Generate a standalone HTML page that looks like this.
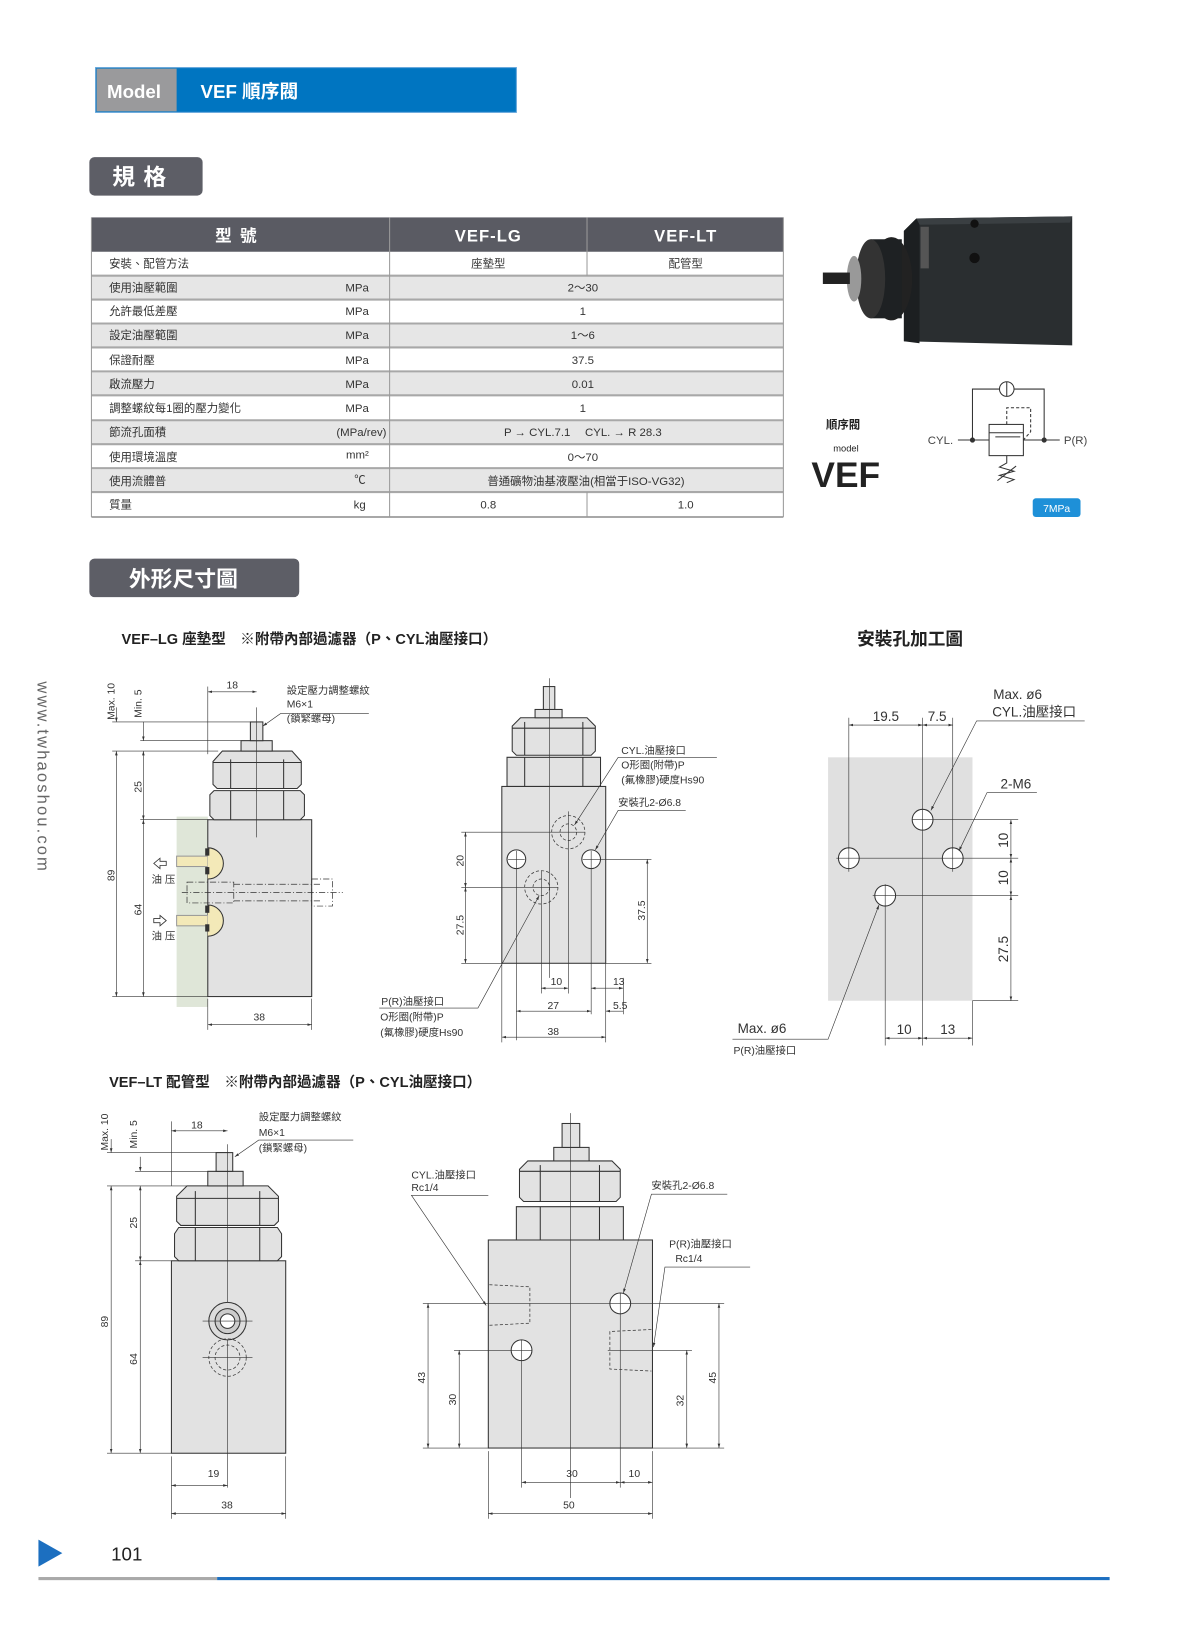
<!DOCTYPE html>
<html><head><meta charset="utf-8"><style>
html,body{margin:0;padding:0;background:#fff;}
svg{display:block;font-family:"Liberation Sans","Noto Sans CJK TC",sans-serif;}
</style></head><body>
<svg width="1200" height="1628" viewBox="0 0 1155 1565" preserveAspectRatio="none" xmlns="http://www.w3.org/2000/svg">
<defs>
<marker id="a" viewBox="0 0 10 10" refX="10" refY="5" markerWidth="7" markerHeight="7" orient="auto-start-reverse"><path d="M0,2 L10,5 L0,8 z" fill="#333"/></marker>
</defs>
<!-- header -->
<rect x="92" y="65" width="405" height="43" fill="#0075c1" stroke="#5aa0d8"/>
<rect x="93" y="66" width="77" height="41" fill="#9a9a9c"/>
<text x="103" y="94" font-size="18" font-weight="bold" fill="#fff">Model</text>
<text x="193" y="94" font-size="18" font-weight="bold" fill="#fff">VEF 順序閥</text>
<rect x="86" y="151" width="109" height="37" rx="5" fill="#5d5e66"/>
<text x="108" y="178" font-size="22" font-weight="bold" fill="#fff" letter-spacing="8">規格</text>

<!-- table -->
<g font-size="11" fill="#333">
<rect x="88" y="209" width="666" height="33" fill="#5a5b63"/>
<text x="231" y="232" font-size="16" font-weight="bold" fill="#fff" text-anchor="middle" letter-spacing="8">型號</text>
<text x="470" y="232" font-size="16" font-weight="bold" fill="#fff" text-anchor="middle" letter-spacing="1">VEF-LG</text>
<text x="660" y="232" font-size="16" font-weight="bold" fill="#fff" text-anchor="middle" letter-spacing="1">VEF-LT</text>
<rect x="88" y="265" width="666" height="23" fill="#e6e6e6"/>
<rect x="88" y="311" width="666" height="23" fill="#e6e6e6"/>
<rect x="88" y="357" width="666" height="23" fill="#e6e6e6"/>
<rect x="88" y="404" width="666" height="23" fill="#e6e6e6"/>
<rect x="88" y="450" width="666" height="23" fill="#e6e6e6"/>
<g stroke="#a8a8a8" stroke-width="2">
<line x1="88" y1="265" x2="754" y2="265"/><line x1="88" y1="288" x2="754" y2="288"/>
<line x1="88" y1="311" x2="754" y2="311"/><line x1="88" y1="334" x2="754" y2="334"/>
<line x1="88" y1="357" x2="754" y2="357"/><line x1="88" y1="380" x2="754" y2="380"/>
<line x1="88" y1="404" x2="754" y2="404"/><line x1="88" y1="427" x2="754" y2="427"/>
<line x1="88" y1="450" x2="754" y2="450"/><line x1="88" y1="473" x2="754" y2="473"/>
<line x1="88" y1="497" x2="754" y2="497"/>
</g>
<g stroke="#9a9a9a" stroke-width="1">
<line x1="88" y1="209" x2="88" y2="497"/><line x1="754" y1="209" x2="754" y2="497"/>
<line x1="375" y1="209" x2="375" y2="497"/>
<line x1="565" y1="209" x2="565" y2="265"/><line x1="565" y1="473" x2="565" y2="497"/>
</g>
<text x="105" y="257">安裝、配管方法</text><text x="470" y="257" text-anchor="middle">座墊型</text><text x="660" y="257" text-anchor="middle">配管型</text>
<text x="105" y="280">使用油壓範圍</text><text x="355" y="280" text-anchor="end">MPa</text><text x="561" y="280" text-anchor="middle">2～30</text>
<text x="105" y="303">允許最低差壓</text><text x="355" y="303" text-anchor="end">MPa</text><text x="561" y="303" text-anchor="middle">1</text>
<text x="105" y="326">設定油壓範圍</text><text x="355" y="326" text-anchor="end">MPa</text><text x="561" y="326" text-anchor="middle">1～6</text>
<text x="105" y="350">保證耐壓</text><text x="355" y="350" text-anchor="end">MPa</text><text x="561" y="350" text-anchor="middle">37.5</text>
<text x="105" y="373">啟流壓力</text><text x="355" y="373" text-anchor="end">MPa</text><text x="561" y="373" text-anchor="middle">0.01</text>
<text x="105" y="396">調整螺紋每1圈的壓力變化</text><text x="355" y="396" text-anchor="end">MPa</text><text x="561" y="396" text-anchor="middle">1</text>
<text x="105" y="419">節流孔面積</text><text x="372" y="419" text-anchor="end">(MPa/rev)</text><text x="561" y="419" text-anchor="middle">P → CYL.7.1　 CYL. → R 28.3</text>
<text x="105" y="443">使用環境溫度</text><text x="355" y="441" text-anchor="end">mm²</text><text x="561" y="443" text-anchor="middle">0～70</text>
<text x="105" y="466">使用流體普</text><text x="352" y="465" text-anchor="end">℃</text><text x="564" y="466" text-anchor="middle">普通礦物油基液壓油(相當于ISO-VG32)</text>
<text x="105" y="489">質量</text><text x="352" y="489" text-anchor="end">kg</text><text x="470" y="489" text-anchor="middle">0.8</text><text x="660" y="489" text-anchor="middle">1.0</text>
</g>

<!-- photo -->
<polygon points="882,210 1032,208 1032,332 870,328 870,222" fill="#2a2e30"/>
<polygon points="882,210 1032,208 1030,214 885,216" fill="#3a3f42"/>
<polygon points="870,222 882,210 885,216 885,330 870,328" fill="#1c1f21"/>
<circle cx="938" cy="215" r="4" fill="#111"/><circle cx="938" cy="248" r="5" fill="#111"/>
<rect x="886" y="218" width="8" height="40" fill="#555"/>
<ellipse cx="858" cy="268" rx="20" ry="40" fill="#222"/>
<rect x="838" y="230" width="30" height="76" fill="#1e2123"/>
<ellipse cx="838" cy="268" rx="14" ry="38" fill="#333"/>
<ellipse cx="822" cy="268" rx="7" ry="22" fill="#999"/>
<rect x="792" y="262" width="26" height="11" fill="#222"/>

<!-- VEF label & symbol -->
<text x="795" y="412" font-size="11" font-weight="bold" fill="#222">順序閥</text>
<text x="802" y="434" font-size="9" fill="#222">model</text>
<text x="781" y="468" font-size="34" font-weight="bold" fill="#222">VEF</text>
<g stroke="#333" fill="none" stroke-width="1">
<polyline points="936,423 936,374 1005,374 1005,423"/>
<circle cx="969" cy="374" r="7" fill="#fff"/>
<line x1="969" y1="367" x2="969" y2="381"/>
<rect x="952" y="408" width="33" height="30" fill="#fff"/>
<line x1="952" y1="416" x2="985" y2="416"/>
<line x1="982" y1="420" x2="958" y2="420"/>
<polyline points="969,408 969,392 992,392 992,415 985,423" stroke-dasharray="3,2"/>
<line x1="922" y1="423" x2="952" y2="423"/><line x1="985" y1="423" x2="1020" y2="423"/>
<polyline points="969,438 969,445 962,449 976,453 962,457 976,461 969,464"/>
<line x1="960" y1="462" x2="978" y2="448"/>
</g>
<circle cx="936" cy="423" r="2.5" fill="#333"/><circle cx="1005" cy="423" r="2.5" fill="#333"/>
<text x="893" y="427" font-size="11" fill="#444">CYL.</text>
<text x="1024" y="427" font-size="11" fill="#444">P(R)</text>
<rect x="994" y="479" width="46" height="18" rx="3" fill="#1e90d8"/>
<text x="1017" y="492" font-size="10" fill="#fff" text-anchor="middle">7MPa</text>

<!-- section 2 -->
<rect x="86" y="537" width="202" height="37" rx="5" fill="#5d5e66"/>
<text x="124" y="564" font-size="21" font-weight="bold" fill="#fff">外形尺寸圖</text>
<text x="117" y="619" font-size="14" font-weight="bold" fill="#222">VEF–LG 座墊型　※附帶內部過濾器（P、CYL油壓接口）</text>
<text x="825" y="620" font-size="17" font-weight="bold" fill="#222">安裝孔加工圖</text>
<text transform="translate(36,655) rotate(90)" font-size="16" fill="#666" letter-spacing="2">www.twhaoshou.com</text>

<g stroke="#333" stroke-width="1" fill="none" font-size="10">
<!-- Drawing 1 -->
<rect x="170" y="785" width="30" height="183" fill="#dfe6d8" stroke="none"/>
<rect x="200" y="788" width="100" height="170" fill="#e2e2e2"/>
<path d="M202,764 L206,760 H289 L293,764 V784 L289,788 H206 L202,784 Z" fill="#e2e2e2"/>
<line x1="222" y1="760" x2="222" y2="788"/><line x1="273" y1="760" x2="273" y2="788"/>
<path d="M205,732 L214,722 H281 L290,732 V754 L286,758 H209 L205,754 Z" fill="#e2e2e2"/>
<line x1="222" y1="730" x2="222" y2="758"/><line x1="273" y1="730" x2="273" y2="758"/><line x1="205" y1="733" x2="290" y2="733"/>
<rect x="232" y="712" width="30" height="10" fill="#e2e2e2"/>
<rect x="241" y="694" width="12" height="18" fill="#e2e2e2"/>
<line x1="247" y1="680" x2="247" y2="805" stroke-width="0.6"/>
<rect x="170" y="823" width="30" height="10" fill="#f3e9b8" stroke="#999"/>
<rect x="170" y="880" width="30" height="10" fill="#f3e9b8" stroke="#999"/>
<path d="M200,815 A14,14 0 0 1 200,845" fill="#f3e9b8"/>
<path d="M200,870 A14,14 0 0 1 200,900" fill="#f3e9b8"/>
<rect x="198" y="816" width="3" height="6" fill="#333"/><rect x="198" y="834" width="3" height="6" fill="#333"/>
<rect x="198" y="871" width="3" height="6" fill="#333"/><rect x="198" y="889" width="3" height="6" fill="#333"/>
<g stroke-dasharray="6,2,1,2" stroke-width="0.7">
<rect x="180" y="848" width="45" height="20"/>
<line x1="225" y1="850" x2="310" y2="850"/><line x1="225" y1="866" x2="310" y2="866"/>
<rect x="300" y="845" width="20" height="26"/>
<line x1="175" y1="858" x2="330" y2="858"/>
</g>
<path d="M148,830 l6,-5 v3 h6 v4 h-6 v3 z" stroke-width="0.8"/>
<path d="M160,885 l-6,-5 v3 h-6 v4 h6 v3 z" stroke-width="0.8"/>
<g stroke-width="0.6">
<line x1="108" y1="694" x2="245" y2="694"/><line x1="135" y1="712" x2="245" y2="712"/>
<line x1="108" y1="722" x2="210" y2="722"/><line x1="135" y1="788" x2="200" y2="788"/>
<line x1="108" y1="958" x2="200" y2="958"/>
<line x1="200" y1="660" x2="200" y2="725"/><line x1="200" y1="960" x2="200" y2="990"/><line x1="300" y1="960" x2="300" y2="990"/>
<line x1="112" y1="680" x2="112" y2="694" marker-end="url(#a)"/>
<line x1="112" y1="722" x2="112" y2="958" marker-start="url(#a)" marker-end="url(#a)"/>
<line x1="138" y1="694" x2="138" y2="712" marker-end="url(#a)"/>
<line x1="138" y1="722" x2="138" y2="788" marker-start="url(#a)" marker-end="url(#a)"/>
<line x1="138" y1="788" x2="138" y2="958" marker-start="url(#a)" marker-end="url(#a)"/>
<line x1="200" y1="665" x2="247" y2="665" marker-start="url(#a)" marker-end="url(#a)"/>
<line x1="200" y1="985" x2="300" y2="985" marker-start="url(#a)" marker-end="url(#a)"/>
<polyline points="253,698 270,686 355,686" marker-start="url(#a)"/>
</g>
<!-- Drawing 2 -->
<rect x="483" y="756" width="100" height="170" fill="#e2e2e2"/>
<path d="M488,728 H578 V756 H488 Z" fill="#e2e2e2"/>
<line x1="505" y1="728" x2="505" y2="756"/><line x1="561" y1="728" x2="561" y2="756"/>
<path d="M493,698 L501,690 H565 L573,698 V722 L569,726 H497 L493,722 Z" fill="#e2e2e2"/>
<line x1="505" y1="694" x2="505" y2="726"/><line x1="561" y1="694" x2="561" y2="726"/><line x1="493" y1="700" x2="573" y2="700"/>
<rect x="515" y="682" width="26" height="8" fill="#e2e2e2"/>
<rect x="523" y="660" width="11" height="22" fill="#e2e2e2"/>
<line x1="529" y1="652" x2="529" y2="940" stroke-width="0.6"/>
<circle cx="497" cy="826" r="9" fill="#fff"/><circle cx="569" cy="826" r="9" fill="#fff"/>
<g stroke-dasharray="3,2" stroke-width="0.7">
<circle cx="547" cy="800" r="16"/><circle cx="547" cy="800" r="8"/>
<circle cx="521" cy="853" r="16"/><circle cx="521" cy="853" r="8"/>
</g>
<g stroke-width="0.6">
<line x1="489" y1="826" x2="505" y2="826"/><line x1="497" y1="818" x2="497" y2="1000"/>
<line x1="561" y1="826" x2="627" y2="826"/><line x1="569" y1="818" x2="569" y2="975"/>
<line x1="444" y1="800" x2="563" y2="800"/><line x1="547" y1="780" x2="547" y2="955"/>
<line x1="444" y1="853" x2="537" y2="853"/><line x1="521" y1="837" x2="521" y2="955"/>
<line x1="444" y1="926" x2="483" y2="926"/><line x1="583" y1="926" x2="627" y2="926"/>
<line x1="483" y1="926" x2="483" y2="1002"/><line x1="583" y1="926" x2="583" y2="1002"/><line x1="600" y1="940" x2="600" y2="975"/>
<line x1="448" y1="800" x2="448" y2="853" marker-start="url(#a)" marker-end="url(#a)"/>
<line x1="448" y1="853" x2="448" y2="926" marker-start="url(#a)" marker-end="url(#a)"/>
<line x1="623" y1="826" x2="623" y2="926" marker-start="url(#a)" marker-end="url(#a)"/>
<line x1="521" y1="950" x2="547" y2="950" marker-start="url(#a)" marker-end="url(#a)"/>
<line x1="569" y1="950" x2="600" y2="950" marker-start="url(#a)" marker-end="url(#a)"/>
<line x1="497" y1="972" x2="569" y2="972" marker-start="url(#a)" marker-end="url(#a)"/>
<line x1="583" y1="972" x2="600" y2="972" marker-start="url(#a)"/>
<line x1="483" y1="997" x2="583" y2="997" marker-start="url(#a)" marker-end="url(#a)"/>
<polyline points="690,728 595,728 553,793" marker-end="url(#a)"/>
<polyline points="660,779 595,779 573,817" marker-end="url(#a)"/>
<polyline points="365,969 460,969 519,861" marker-end="url(#a)"/>
</g>
<!-- Drawing 3 -->
<rect x="797" y="728" width="139" height="234" fill="#e0e0e0" stroke="none"/>
<circle cx="888" cy="788" r="10" fill="#fff"/><circle cx="817" cy="825" r="10" fill="#fff"/>
<circle cx="917" cy="825" r="10" fill="#fff"/><circle cx="852" cy="861" r="10" fill="#fff"/>
<g stroke-width="0.6">
<line x1="888" y1="690" x2="888" y2="1005"/><line x1="852" y1="850" x2="852" y2="1005"/>
<line x1="817" y1="690" x2="817" y2="838"/><line x1="917" y1="690" x2="917" y2="838"/>
<line x1="936" y1="962" x2="936" y2="1005"/>
<line x1="878" y1="788" x2="980" y2="788"/><line x1="805" y1="825" x2="980" y2="825"/>
<line x1="840" y1="861" x2="980" y2="861"/><line x1="936" y1="962" x2="980" y2="962"/>
<line x1="817" y1="697" x2="888" y2="697" marker-start="url(#a)" marker-end="url(#a)"/>
<line x1="888" y1="697" x2="917" y2="697" marker-start="url(#a)" marker-end="url(#a)"/>
<line x1="973" y1="788" x2="973" y2="825" marker-start="url(#a)" marker-end="url(#a)"/>
<line x1="973" y1="825" x2="973" y2="861" marker-start="url(#a)" marker-end="url(#a)"/>
<line x1="973" y1="861" x2="973" y2="962" marker-start="url(#a)" marker-end="url(#a)"/>
<line x1="852" y1="998" x2="888" y2="998" marker-start="url(#a)" marker-end="url(#a)"/>
<line x1="888" y1="998" x2="936" y2="998" marker-start="url(#a)" marker-end="url(#a)"/>
<polyline points="1044,693 940,693 896,779" marker-end="url(#a)"/>
<polyline points="998,762 950,762 923,818" marker-end="url(#a)"/>
<polyline points="705,999 797,999 846,870" marker-end="url(#a)"/>
</g>
<!-- Drawing 4 -->
<rect x="165" y="1212" width="110" height="185" fill="#e2e2e2"/>
<path d="M168,1186 L172,1180 H267 L271,1186 V1208 L267,1212 H172 L168,1208 Z" fill="#e2e2e2"/>
<line x1="188" y1="1180" x2="188" y2="1212"/><line x1="250" y1="1180" x2="250" y2="1212"/>
<path d="M170,1150 L180,1140 H258 L268,1150 V1174 L264,1178 H174 L170,1174 Z" fill="#e2e2e2"/>
<line x1="188" y1="1145" x2="188" y2="1178"/><line x1="250" y1="1145" x2="250" y2="1178"/><line x1="170" y1="1152" x2="268" y2="1152"/>
<rect x="200" y="1126" width="34" height="14" fill="#e2e2e2"/>
<rect x="208" y="1108" width="16" height="18" fill="#e2e2e2"/>
<line x1="219" y1="1100" x2="219" y2="1430" stroke-width="0.6"/>
<circle cx="219" cy="1270" r="18" fill="#ddd"/><circle cx="219" cy="1270" r="12" fill="#ccc"/><circle cx="219" cy="1270" r="7" fill="#fff"/>
<g stroke-dasharray="3,2" stroke-width="0.7"><circle cx="219" cy="1305" r="18"/><circle cx="219" cy="1305" r="12"/></g>
<g stroke-width="0.6">
<line x1="195" y1="1270" x2="243" y2="1270"/><line x1="195" y1="1305" x2="243" y2="1305"/>
<line x1="103" y1="1108" x2="220" y2="1108"/><line x1="130" y1="1126" x2="220" y2="1126"/>
<line x1="103" y1="1140" x2="180" y2="1140"/><line x1="130" y1="1212" x2="165" y2="1212"/>
<line x1="103" y1="1397" x2="165" y2="1397"/>
<line x1="165" y1="1078" x2="165" y2="1140"/><line x1="165" y1="1400" x2="165" y2="1460"/><line x1="275" y1="1400" x2="275" y2="1460"/>
<line x1="107" y1="1095" x2="107" y2="1108" marker-end="url(#a)"/>
<line x1="107" y1="1140" x2="107" y2="1397" marker-start="url(#a)" marker-end="url(#a)"/>
<line x1="135" y1="1112" x2="135" y2="1126" marker-end="url(#a)"/>
<line x1="135" y1="1140" x2="135" y2="1212" marker-start="url(#a)" marker-end="url(#a)"/>
<line x1="135" y1="1212" x2="135" y2="1397" marker-start="url(#a)" marker-end="url(#a)"/>
<line x1="165" y1="1087" x2="219" y2="1087" marker-start="url(#a)" marker-end="url(#a)"/>
<line x1="165" y1="1428" x2="219" y2="1428" marker-start="url(#a)" marker-end="url(#a)"/>
<line x1="165" y1="1455" x2="275" y2="1455" marker-start="url(#a)" marker-end="url(#a)"/>
<polyline points="340,1096 249,1096 226,1112" marker-end="url(#a)"/>
</g>
<!-- Drawing 5 -->
<rect x="470" y="1192" width="158" height="200" fill="#e2e2e2"/>
<path d="M497,1160 H600 V1192 H497 Z" fill="#e2e2e2"/>
<line x1="520" y1="1160" x2="520" y2="1192"/><line x1="577" y1="1160" x2="577" y2="1192"/>
<path d="M500,1124 L508,1116 H589 L597,1124 V1151 L593,1155 H504 L500,1151 Z" fill="#e2e2e2"/>
<line x1="520" y1="1120" x2="520" y2="1155"/><line x1="577" y1="1120" x2="577" y2="1155"/><line x1="500" y1="1126" x2="597" y2="1126"/>
<rect x="533" y="1103" width="34" height="13" fill="#e2e2e2"/>
<rect x="541" y="1080" width="17" height="23" fill="#e2e2e2"/>
<line x1="549" y1="1070" x2="549" y2="1440" stroke-width="0.6"/>
<circle cx="597" cy="1253" r="10" fill="#fff"/><circle cx="502" cy="1298" r="10" fill="#fff"/>
<g stroke-dasharray="3,2" stroke-width="0.7">
<polyline points="471,1235 510,1237 510,1272 471,1274"/>
<polyline points="627,1278 587,1280 587,1316 627,1318"/>
</g>
<g stroke-width="0.6">
<line x1="407" y1="1253" x2="607" y2="1253"/><line x1="597" y1="1243" x2="597" y2="1430"/>
<line x1="437" y1="1298" x2="512" y2="1298"/><line x1="502" y1="1288" x2="502" y2="1430"/>
<line x1="585" y1="1298" x2="666" y2="1298"/><line x1="607" y1="1253" x2="697" y2="1253"/>
<line x1="407" y1="1392" x2="470" y2="1392"/><line x1="628" y1="1392" x2="697" y2="1392"/>
<line x1="470" y1="1395" x2="470" y2="1460"/><line x1="628" y1="1395" x2="628" y2="1460"/>
<line x1="412" y1="1253" x2="412" y2="1392" marker-start="url(#a)" marker-end="url(#a)"/>
<line x1="442" y1="1298" x2="442" y2="1392" marker-start="url(#a)" marker-end="url(#a)"/>
<line x1="661" y1="1298" x2="661" y2="1392" marker-start="url(#a)" marker-end="url(#a)"/>
<line x1="692" y1="1253" x2="692" y2="1392" marker-start="url(#a)" marker-end="url(#a)"/>
<line x1="502" y1="1425" x2="597" y2="1425" marker-start="url(#a)" marker-end="url(#a)"/>
<line x1="597" y1="1425" x2="628" y2="1425" marker-start="url(#a)" marker-end="url(#a)"/>
<line x1="470" y1="1455" x2="628" y2="1455" marker-start="url(#a)" marker-end="url(#a)"/>
<polyline points="470,1149 396,1149 468,1255" marker-end="url(#a)"/>
<polyline points="700,1148 627,1148 600,1243" marker-end="url(#a)"/>
<polyline points="722,1218 640,1218 629,1295" marker-end="url(#a)"/>
</g>
</g>

<!-- drawing texts -->
<g font-size="10" fill="#333">
<text transform="translate(110,692) rotate(-90)">Max. 10</text>
<text transform="translate(136,690) rotate(-90)">Min. 5</text>
<text transform="translate(136,762) rotate(-90)">25</text>
<text transform="translate(110,847) rotate(-90)">89</text>
<text transform="translate(136,880) rotate(-90)">64</text>
<text x="218" y="662">18</text>
<text x="244" y="981">38</text>
<text x="276" y="667">設定壓力調整螺紋</text><text x="276" y="680">M6×1</text><text x="276" y="694">(鎖緊螺母)</text>
<text x="146" y="849">油 压</text><text x="146" y="903">油 压</text>
<text transform="translate(446,833) rotate(-90)">20</text>
<text transform="translate(446,899) rotate(-90)">27.5</text>
<text transform="translate(621,885) rotate(-90)">37.5</text>
<text x="530" y="947">10</text><text x="590" y="947">13</text>
<text x="527" y="970">27</text><text x="590" y="970">5.5</text>
<text x="527" y="995">38</text>
<text x="598" y="725">CYL.油壓接口</text><text x="598" y="739">O形圈(附帶)P</text><text x="598" y="753">(氟橡膠)硬度Hs90</text>
<text x="595" y="775">安裝孔2-Ø6.8</text>
<text x="367" y="966">P(R)油壓接口</text><text x="366" y="981">O形圈(附帶)P</text><text x="366" y="996">(氟橡膠)硬度Hs90</text>
<g font-size="13">
<text x="840" y="693">19.5</text><text x="893" y="693">7.5</text>
<text x="956" y="672">Max. ø6</text><text x="955" y="689">CYL.油壓接口</text>
<text x="963" y="758">2-M6</text>
<text transform="translate(970,815) rotate(-90)">10</text>
<text transform="translate(970,851) rotate(-90)">10</text>
<text transform="translate(970,925) rotate(-90)">27.5</text>
<text x="863" y="994">10</text><text x="905" y="994">13</text>
<text x="710" y="993">Max. ø6</text>
</g>
<text x="706" y="1013">P(R)油壓接口</text>
<text x="105" y="1045" font-size="14" font-weight="bold" fill="#222">VEF–LT 配管型　※附帶內部過濾器（P、CYL油壓接口）</text>
<text transform="translate(104,1106) rotate(-90)">Max. 10</text>
<text transform="translate(132,1104) rotate(-90)">Min. 5</text>
<text transform="translate(132,1181) rotate(-90)">25</text>
<text transform="translate(104,1276) rotate(-90)">89</text>
<text transform="translate(132,1312) rotate(-90)">64</text>
<text x="184" y="1085">18</text>
<text x="249" y="1077">設定壓力調整螺紋</text><text x="249" y="1092">M6×1</text><text x="249" y="1107">(鎖緊螺母)</text>
<text x="200" y="1420">19</text><text x="213" y="1450">38</text>
<text x="396" y="1133">CYL.油壓接口</text><text x="396" y="1145">Rc1/4</text>
<text x="627" y="1143">安裝孔2-Ø6.8</text>
<text x="644" y="1199">P(R)油壓接口</text><text x="650" y="1213">Rc1/4</text>
<text transform="translate(409,1330) rotate(-90)">43</text>
<text transform="translate(439,1351) rotate(-90)">30</text>
<text transform="translate(658,1352) rotate(-90)">32</text>
<text transform="translate(689,1330) rotate(-90)">45</text>
<text x="545" y="1420">30</text><text x="605" y="1420">10</text><text x="542" y="1450">50</text>
</g>

<!-- footer -->
<polygon points="37,1480 60,1493 37,1506" fill="#1c6fc0"/>
<text x="107" y="1500" font-size="18" fill="#222">101</text>
<rect x="37" y="1516" width="172" height="3" fill="#a9a9a9"/>
<rect x="209" y="1516" width="859" height="3" fill="#1c6fc0"/>
</svg>
</body></html>
